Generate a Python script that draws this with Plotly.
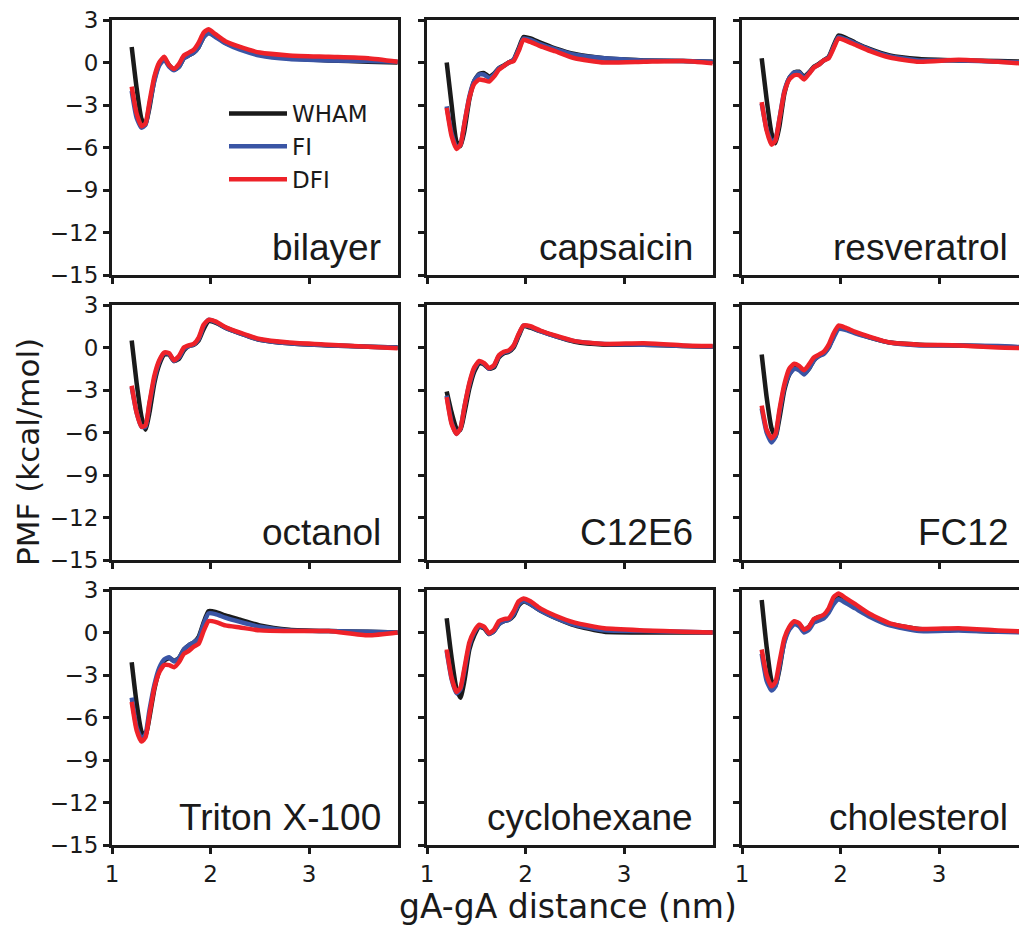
import plotly.graph_objects as go

# ---------------- data ----------------
X = [1.2, 1.25, 1.3, 1.34, 1.38, 1.43, 1.48, 1.53, 1.58, 1.63, 1.68, 1.73, 1.78,
     1.83, 1.88, 1.93, 1.98, 2.05, 2.15, 2.3, 2.5, 2.8, 3.2, 3.6, 3.9]

panels = ["bilayer", "capsaicin", "resveratrol", "octanol", "C12E6", "FC12",
          "Triton X-100", "cyclohexane", "cholesterol"]

bilayer_wham = [1.1, -1.8, -4.0, -4.4, -3.2, -1.2, -0.1, 0.3, -0.2, -0.5, -0.3, 0.3, 0.5, 0.7, 1.1, 1.8, 2.1, 1.85, 1.4, 1.0, 0.6, 0.3, 0.15, 0.05, 0.0]
bilayer_fi   = [-2.0, -3.9, -4.6, -4.4, -3.0, -1.3, -0.2, 0.2, -0.3, -0.55, -0.3, 0.3, 0.5, 0.7, 1.1, 1.8, 2.1, 1.8, 1.35, 0.9, 0.5, 0.25, 0.15, 0.1, 0.05]
bilayer_dfi  = [-1.7, -3.6, -4.5, -4.3, -2.8, -1.0, 0.0, 0.4, -0.2, -0.45, -0.1, 0.5, 0.7, 0.9, 1.4, 2.1, 2.35, 2.0, 1.5, 1.1, 0.7, 0.5, 0.4, 0.3, 0.05]

capsaicin_wham = [0.0, -3.0, -5.6, -5.9, -4.8, -2.6, -1.3, -0.8, -0.75, -1.0, -0.8, -0.4, -0.2, 0.0, 0.2, 1.0, 1.8, 1.7, 1.4, 1.0, 0.6, 0.3, 0.15, 0.1, 0.05]
capsaicin_fi   = [-3.1, -5.0, -6.0, -5.8, -4.3, -2.4, -1.3, -0.85, -0.85, -1.1, -0.85, -0.4, -0.25, 0.0, 0.2, 0.9, 1.7, 1.6, 1.3, 0.95, 0.55, 0.3, 0.15, 0.1, 0.05]
capsaicin_dfi  = [-3.2, -5.2, -6.1, -5.8, -4.3, -2.5, -1.5, -1.2, -1.25, -1.35, -1.0, -0.5, -0.25, 0.0, 0.1, 0.8, 1.6, 1.45, 1.15, 0.8, 0.3, 0.0, 0.05, 0.1, -0.05]

resveratrol_wham = [0.3, -2.6, -5.0, -5.7, -4.5, -2.2, -1.1, -0.7, -0.65, -1.0, -0.7, -0.3, -0.1, 0.15, 0.4, 1.2, 1.9, 1.75, 1.4, 0.95, 0.5, 0.25, 0.15, 0.1, 0.05]
resveratrol_fi   = [-2.9, -4.7, -5.6, -5.4, -4.0, -2.0, -1.1, -0.7, -0.7, -1.1, -0.75, -0.35, -0.15, 0.15, 0.35, 1.1, 1.8, 1.65, 1.35, 0.9, 0.45, 0.15, 0.15, 0.05, 0.0]
resveratrol_dfi  = [-2.8, -4.8, -5.8, -5.5, -4.0, -2.1, -1.2, -0.9, -0.9, -1.2, -0.8, -0.35, -0.15, 0.15, 0.3, 1.0, 1.7, 1.55, 1.25, 0.8, 0.35, 0.05, 0.2, 0.05, -0.1]

octanol_wham = [0.5, -2.5, -4.9, -5.8, -4.6, -2.5, -1.2, -0.5, -0.5, -0.95, -0.8, -0.2, 0.1, 0.2, 0.5, 1.3, 1.85, 1.75, 1.4, 1.0, 0.55, 0.3, 0.15, 0.05, 0.0]
octanol_fi   = [-2.8, -4.6, -5.6, -5.6, -4.0, -2.2, -1.0, -0.4, -0.45, -0.95, -0.7, -0.1, 0.1, 0.2, 0.6, 1.5, 1.95, 1.8, 1.4, 1.0, 0.55, 0.3, 0.15, 0.05, 0.0]
octanol_dfi  = [-2.7, -4.6, -5.6, -5.5, -3.9, -2.0, -0.9, -0.35, -0.4, -0.9, -0.6, 0.0, 0.15, 0.25, 0.7, 1.6, 1.95, 1.85, 1.45, 1.05, 0.6, 0.35, 0.2, 0.05, -0.05]

c12e6_wham = [-3.1, -4.6, -5.7, -5.8, -4.6, -2.9, -1.7, -1.1, -1.2, -1.5, -1.4, -0.7, -0.4, -0.3, 0.0, 0.8, 1.5, 1.4, 1.15, 0.8, 0.4, 0.2, 0.2, 0.1, 0.05]
c12e6_fi   = [-3.4, -5.3, -6.1, -5.7, -4.2, -2.6, -1.5, -1.0, -1.15, -1.5, -1.3, -0.6, -0.35, -0.25, 0.1, 0.9, 1.55, 1.45, 1.15, 0.8, 0.45, 0.25, 0.2, 0.1, 0.05]
c12e6_dfi  = [-3.5, -5.4, -6.1, -5.7, -4.2, -2.5, -1.4, -0.95, -1.1, -1.45, -1.25, -0.55, -0.3, -0.2, 0.15, 0.95, 1.55, 1.5, 1.2, 0.85, 0.45, 0.25, 0.3, 0.15, 0.1]

fc12_wham = [-0.5, -3.5, -5.7, -6.3, -5.0, -3.0, -1.9, -1.4, -1.5, -1.85, -1.5, -0.9, -0.6, -0.4, 0.0, 0.8, 1.4, 1.3, 1.05, 0.7, 0.35, 0.2, 0.15, 0.05, 0.0]
fc12_fi   = [-4.3, -6.0, -6.7, -6.3, -4.6, -2.8, -1.9, -1.5, -1.6, -1.9, -1.5, -0.9, -0.6, -0.45, 0.0, 0.7, 1.3, 1.25, 1.0, 0.7, 0.35, 0.15, 0.15, 0.1, 0.0]
fc12_dfi  = [-4.1, -5.8, -6.4, -6.1, -4.4, -2.6, -1.5, -1.15, -1.3, -1.6, -1.2, -0.7, -0.5, -0.3, 0.2, 1.0, 1.55, 1.4, 1.1, 0.75, 0.35, 0.2, 0.15, 0.0, -0.05]

triton_wham = [-2.1, -5.0, -7.0, -7.3, -6.0, -4.0, -2.7, -2.0, -1.8, -2.0, -1.8, -1.2, -0.9, -0.7, -0.3, 0.7, 1.5, 1.45, 1.2, 0.9, 0.5, 0.2, 0.1, 0.05, 0.0]
triton_fi   = [-4.6, -6.7, -7.5, -7.2, -5.5, -3.7, -2.5, -1.9, -1.75, -2.05, -1.8, -1.2, -0.9, -0.7, -0.4, 0.6, 1.35, 1.3, 1.05, 0.75, 0.4, 0.15, 0.1, 0.05, 0.0]
triton_dfi  = [-4.9, -6.9, -7.7, -7.4, -5.8, -3.9, -2.8, -2.3, -2.3, -2.45, -2.1, -1.5, -1.3, -1.0, -0.8, 0.1, 0.8, 0.75, 0.5, 0.35, 0.15, 0.1, 0.1, -0.2, 0.0]

cyclohexane_wham = [1.0, -1.8, -4.0, -4.6, -3.4, -1.2, -0.2, 0.4, 0.3, -0.1, 0.1, 0.6, 0.8, 0.9, 1.2, 1.9, 2.2, 2.0, 1.55, 1.05, 0.5, 0.05, 0.0, 0.0, 0.0]
cyclohexane_fi   = [-1.3, -3.3, -4.3, -4.0, -2.7, -0.9, 0.0, 0.45, 0.35, -0.1, 0.1, 0.6, 0.8, 0.9, 1.3, 2.0, 2.25, 2.0, 1.55, 1.05, 0.55, 0.15, 0.1, 0.05, 0.0]
cyclohexane_dfi  = [-1.2, -3.2, -4.2, -3.9, -2.5, -0.7, 0.1, 0.55, 0.4, -0.05, 0.2, 0.8, 0.95, 1.0, 1.5, 2.2, 2.4, 2.2, 1.7, 1.2, 0.7, 0.3, 0.15, 0.05, 0.0]

cholesterol_wham = [2.3, -1.0, -3.4, -3.8, -2.6, -0.6, 0.3, 0.75, 0.6, 0.2, 0.4, 0.9, 1.1, 1.2, 1.5, 2.2, 2.5, 2.25, 1.85, 1.2, 0.6, 0.25, 0.2, 0.05, 0.05]
cholesterol_fi   = [-1.5, -3.4, -4.1, -3.8, -2.4, -0.7, 0.2, 0.6, 0.45, 0.0, 0.2, 0.7, 0.85, 1.0, 1.4, 2.0, 2.35, 2.1, 1.7, 1.1, 0.5, 0.1, 0.15, 0.05, 0.0]
cholesterol_dfi  = [-1.2, -3.0, -3.8, -3.5, -2.1, -0.4, 0.4, 0.8, 0.65, 0.2, 0.4, 0.95, 1.1, 1.25, 1.7, 2.5, 2.75, 2.45, 2.0, 1.3, 0.65, 0.25, 0.3, 0.15, 0.05]

wham = [bilayer_wham, capsaicin_wham, resveratrol_wham, octanol_wham, c12e6_wham,
        fc12_wham, triton_wham, cyclohexane_wham, cholesterol_wham]
fi = [bilayer_fi, capsaicin_fi, resveratrol_fi, octanol_fi, c12e6_fi,
      fc12_fi, triton_fi, cyclohexane_fi, cholesterol_fi]
dfi = [bilayer_dfi, capsaicin_dfi, resveratrol_dfi, octanol_dfi, c12e6_dfi,
       fc12_dfi, triton_dfi, cyclohexane_dfi, cholesterol_dfi]

series_names = ["WHAM", "FI", "DFI"]
series_colors = ["#1a1a1a", "#3a55a5", "#ee2229"]

x_ticks = [1, 2, 3]
y_ticks = [3, 0, -3, -6, -9, -12, -15]
y_tick_text = ["3", "0", "\u22123", "\u22126", "\u22129", "\u221212", "\u221215"]

# ---------------- layout geometry ----------------
W, H = 1019, 926
ML, MR, MT, MB = 112, 0, 20, 81
PW, PH = W - ML - MR, H - MT - MB
col_px = [(112, 398), (427, 713), (742, 1019)]
row_px = [(20, 275), (305, 560), (590, 845)]
label_pad = [15, 18, 9]
px_per_unit = 98.5

FONT = "DejaVu Sans"
LABEL_FONT = "Liberation Sans"
INK = "#1a1a1a"
XTICK_SIZE = 23
YTICK_SIZE = 23

fig = go.Figure()

annotations = []
for i, name in enumerate(panels):
    r, c = divmod(i, 3)
    ax = i + 1
    xs = "x" if ax == 1 else f"x{ax}"
    ys = "y" if ax == 1 else f"y{ax}"
    for k, data in enumerate([wham[i], fi[i], dfi[i]]):
        fig.add_trace(go.Scatter(
            x=X, y=data, mode="lines", name=series_names[k],
            line=dict(color=series_colors[k], width=4.5, shape="spline", smoothing=0.5),
            xaxis=xs, yaxis=ys, showlegend=(i == 0), legendgroup=series_names[k],
        ))
    x0, x1 = col_px[c]
    y0, y1 = row_px[r]
    xdom = [(x0 - ML) / PW, (x1 - ML) / PW]
    ydom = [1 - (y1 - MT) / PH, 1 - (y0 - MT) / PH]
    xr = [1, 1 + (x1 - x0) / px_per_unit]
    fig.update_layout({
        ("xaxis" if ax == 1 else f"xaxis{ax}"): dict(
            domain=xdom, range=xr, anchor=ys, tickmode="array", tickvals=x_ticks,
            ticks="outside", ticklen=6, tickwidth=2.5, tickcolor=INK,
            showline=True, linewidth=3, linecolor=INK, mirror=True,
            showgrid=False, zeroline=False, showticklabels=(r == 2),
            tickfont=dict(size=XTICK_SIZE, family=FONT, color=INK),
        ),
        ("yaxis" if ax == 1 else f"yaxis{ax}"): dict(
            domain=ydom, range=[-15, 3], anchor=xs, tickmode="array",
            tickvals=y_ticks, ticktext=y_tick_text,
            ticks="outside", ticklen=6, tickwidth=2.5, tickcolor=INK,
            showline=True, linewidth=3, linecolor=INK, mirror=(c != 2),
            showgrid=False, zeroline=False, showticklabels=(c == 0),
            tickfont=dict(size=YTICK_SIZE, family=FONT, color=INK),
            automargin=False,
        ),
    })
    annotations.append(dict(
        text=name, xref="paper", yref="paper",
        x=(x1 - label_pad[c] - ML) / PW,
        y=1 - (y1 - 28 - MT) / PH,
        xanchor="right", yanchor="middle", showarrow=False,
        font=dict(size=37, family=LABEL_FONT, color=INK),
    ))

annotations.append(dict(
    text="gA-gA distance (nm)", xref="paper", yref="paper",
    x=(568 - ML) / PW, y=1 - (906 - MT) / PH, xanchor="center", yanchor="middle",
    showarrow=False, font=dict(size=33, family=FONT, color=INK),
))
annotations.append(dict(
    text="PMF (kcal/mol)", xref="paper", yref="paper", textangle=-90,
    x=(28 - ML) / PW, y=1 - (452 - MT) / PH, xanchor="center", yanchor="middle",
    showarrow=False, font=dict(size=31, family=FONT, color=INK),
))

fig.update_layout(
    width=W, height=H,
    margin=dict(l=ML, r=MR, t=MT, b=MB),
    paper_bgcolor="white", plot_bgcolor="white",
    font=dict(family=FONT, color=INK, size=YTICK_SIZE),
    showlegend=True,
    legend=dict(x=(224 - ML) / PW, y=1 - (92 - MT) / PH, xanchor="left", yanchor="top",
                bgcolor="rgba(0,0,0,0)", font=dict(size=23, family=FONT, color=INK),
                itemwidth=58, tracegroupgap=0),
    annotations=annotations,
)
fig.write_html("out.html")
